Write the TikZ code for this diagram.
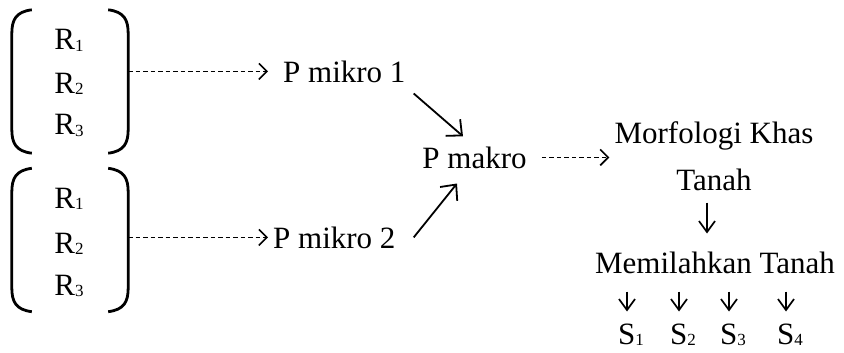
\documentclass[tikz,border=0pt]{standalone}
\usepackage{fontspec}
\setmainfont{Liberation Serif}
\usetikzlibrary{arrows.meta,calc}
\newcommand{\mysub}[1]{\raisebox{-1.5pt}{\fontsize{17}{17}\selectfont #1}}
\begin{document}
\begin{tikzpicture}[x=1pt,y=-1pt,
 txt/.style={inner sep=0pt, anchor=base, font=\fontsize{31}{36}\selectfont},
 dasharr/.style={line width=1.7pt, dash pattern=on 4.5pt off 3pt, -{Straight Barb[length=8pt,width=16pt,line width=1.6pt]}},
 solarr/.style={line width=1.8pt, -{Straight Barb[length=12pt,width=22pt]}},
 downarr/.style={line width=1.7pt, -{Straight Barb[length=11pt,width=16pt]}},
 brk/.style={line width=2.8pt},
 grp/.style={inner sep=0pt, minimum width=116pt, minimum height=143pt}]
\useasboundingbox (0,0) rectangle (844,353);
% groups
\node[grp] (g1) at (70,81.5) {};
\node[grp] (g2) at (70,240) {};
\foreach \g in {g1,g2}{
 \draw[brk] ($(\g.north west)+(20,0)$) .. controls ($(\g.north west)+(4,2)$) and ($(\g.north west)+(0,10)$) .. ($(\g.north west)+(0,24)$) -- ($(\g.south west)+(0,-24)$) .. controls ($(\g.south west)+(0,-10)$) and ($(\g.south west)+(4,-2)$) .. ($(\g.south west)+(20,0)$);
 \draw[brk] ($(\g.north east)+(-20,0)$) .. controls ($(\g.north east)+(-4,2)$) and ($(\g.north east)+(0,10)$) .. ($(\g.north east)+(0,24)$) -- ($(\g.south east)+(0,-24)$) .. controls ($(\g.south east)+(0,-10)$) and ($(\g.south east)+(-4,-2)$) .. ($(\g.south east)+(-20,0)$);
}
\node[txt] (r11) at (69,50) {R\mysub{1}};
\node[txt] (r12) at (69,93) {R\mysub{2}};
\node[txt] (r13) at (69,135) {R\mysub{3}};
\node[txt] (r21) at (69,208) {R\mysub{1}};
\node[txt] (r22) at (69,253) {R\mysub{2}};
\node[txt] (r23) at (69,295) {R\mysub{3}};
% text nodes
\node[txt, anchor=base west] (pm1) at (283,82) {P mikro 1};
\node[txt, anchor=base west] (pm2) at (273,248) {P mikro 2};
\node[txt] (pmak) at (474.5,168) {P makro};
\node[txt] (mk) at (714,143) {Morfologi Khas};
\node[txt] (tn) at (714,190) {Tanah};
\node[txt] (mem) at (715,273) {Memilahkan Tanah};
\node[txt, anchor=base west] (s1) at (618,344) {S\mysub{1}};
\node[txt, anchor=base west] (s2) at (670,344) {S\mysub{2}};
\node[txt, anchor=base west] (s3) at (720,344) {S\mysub{3}};
\node[txt, anchor=base west] (s4) at (777,344) {S\mysub{4}};
% connectors
\draw[dasharr, shorten >=15pt] (g1.east |- pm1.west) -- (pm1.west);
\draw[dasharr, shorten >=5pt] (g2.east |- pm2.west) -- (pm2.west);
\draw[solarr] ($(pm1.south east)+(8,11)$) -- ($(pmak.north)+(-11.5,-10)$);
\draw[solarr] ($(pm2.east)+(18,0)$) -- ($(pmak.south)+(-17.5,15)$);
\draw[dasharr, shorten <=15pt, shorten >=5pt] (pmak.east) -- (pmak.east -| mk.west);
\draw[downarr] ($(tn.south)+(-7,12)$) -- ($(tn.south)+(-7,43)$);
\foreach \s in {s1,s2,s3,s4}{
 \draw[downarr] ($(mem.south -| \s.west)+(9,18)$) -- ($(mem.south -| \s.west)+(9,38)$);
}
\end{tikzpicture}
\end{document}
